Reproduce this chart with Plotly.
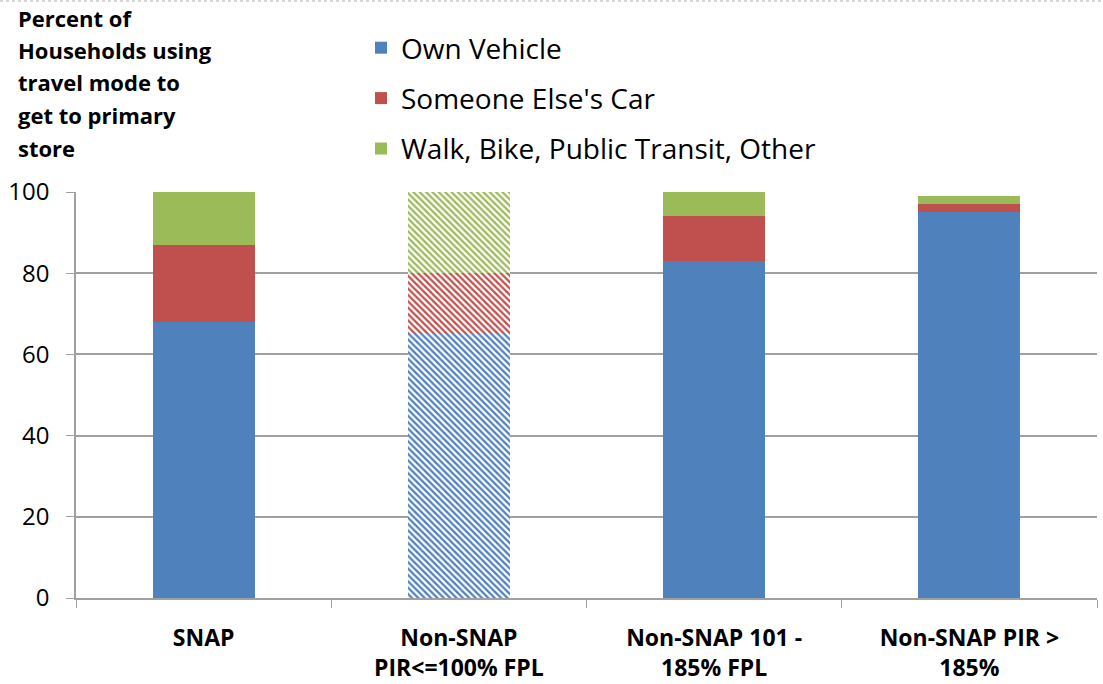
import plotly.graph_objects as go

categories = ["SNAP", "Non-SNAP<br>PIR<=100% FPL", "Non-SNAP 101 -<br>185% FPL", "Non-SNAP PIR ><br>185%"]
own_vehicle = [68, 65, 83, 95]
someone_else = [19, 15, 11, 2]
walk_other = [13, 20, 6, 2]
hatched = ["", "\\", "", ""]
title_lines = ["Percent of", "Households using", "travel mode to", "get to primary", "store"]

series = [
    ("Own Vehicle", own_vehicle, "#4F81BD"),
    ("Someone Else's Car", someone_else, "#C0504D"),
    ("Walk, Bike, Public Transit, Other", walk_other, "#9BBB59"),
]

fig = go.Figure()
for i, (name, vals, col) in enumerate(series):
    fig.add_trace(go.Bar(
        x=categories, y=vals, name=name, width=0.4,
        legendgroup=str(i),
        marker=dict(color=col, line=dict(width=0),
                    pattern=dict(shape=hatched, fgcolor=col, bgcolor="white",
                                 size=4.5, solidity=0.5, fillmode="replace")),
    ))

PLOT_TOP, PLOT_BOT = 192, 598
def py(ypx):
    return (PLOT_BOT - ypx) / (PLOT_BOT - PLOT_TOP)

for line, ypx in zip(title_lines, [18, 50, 82, 115, 148]):
    fig.add_annotation(text=f"<b>{line}</b>", xref="paper", yref="paper",
                       x=(16 - 76) / 1021, y=py(ypx), xanchor="left", yanchor="middle",
                       showarrow=False, font=dict(size=22, color="black", family="Open Sans"))

# faint dotted border at the top edge
fig.add_shape(type="line", xref="paper", yref="paper", x0=-76 / 1021, x1=1 + 6 / 1021,
              y0=py(1), y1=py(1), line=dict(color="#C8C8C8", width=1.5, dash="dot"))

fig.update_layout(
    barmode="stack",
    width=1103, height=684,
    margin=dict(l=76, r=6, t=192, b=86),
    plot_bgcolor="white", paper_bgcolor="white",
    font=dict(family="Open Sans", color="black"),
    showlegend=True,
    legend=dict(x=(361 - 76) / 1021, y=py(23), xanchor="left", yanchor="top",
                font=dict(size=28, color="black", family="Open Sans"),
                tracegroupgap=11, bgcolor="rgba(0,0,0,0)", traceorder="grouped"),
    bargap=0.6,
)
fig.update_yaxes(range=[0, 100], dtick=20, showgrid=True, gridcolor="#A0A0A0", gridwidth=1.5,
                 showline=True, linecolor="#A0A0A0", linewidth=1.5, ticks="outside",
                 ticklen=8, tickcolor="#A0A0A0", tickfont=dict(size=24, color="black"),
                 ticklabelstandoff=12, zeroline=False, automargin=False)
fig.update_xaxes(showline=True, linecolor="#A0A0A0", linewidth=1.5, ticks="outside",
                 tickson="boundaries", ticklen=8, tickcolor="#A0A0A0",
                 tickfont=dict(size=23, color="black"), ticklabelstandoff=19, showgrid=False,
                 automargin=False)
fig.update_xaxes(ticktext=[f"<b>{c}</b>" for c in categories], tickvals=categories)

fig.write_html("out.html", config={"displayModeBar": False},
               post_script="document.body.style.margin='0';")
